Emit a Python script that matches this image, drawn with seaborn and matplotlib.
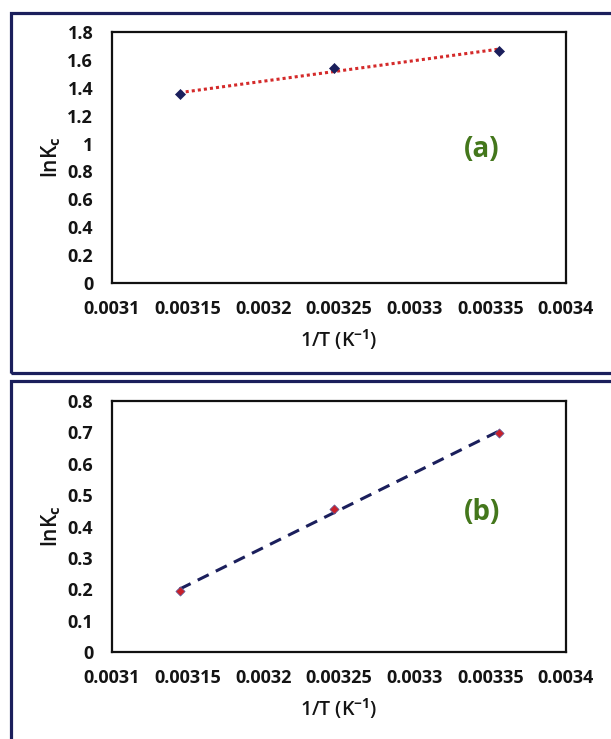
import numpy as np
import pandas as pd
import matplotlib
matplotlib.use("Agg")
import matplotlib.pyplot as plt
from matplotlib.patches import Rectangle
import seaborn as sns

# ---- data ----
inv_T = [0.0031447, 0.0032468, 0.0033557]          # 1/T (K^-1)
lnKc_a = [1.353, 1.540, 1.666]                      # panel (a)
lnKc_b = [0.195, 0.455, 0.699]                      # panel (b)
x_ticks = [0.0031, 0.00315, 0.0032, 0.00325, 0.0033, 0.00335, 0.0034]
x_tick_labels = ["0.0031", "0.00315", "0.0032", "0.00325", "0.0033", "0.00335", "0.0034"]
y_ticks_a = [0, 0.2, 0.4, 0.6, 0.8, 1.0, 1.2, 1.4, 1.6, 1.8]
y_tick_labels_a = ["0", "0.2", "0.4", "0.6", "0.8", "1", "1.2", "1.4", "1.6", "1.8"]
y_ticks_b = [0, 0.1, 0.2, 0.3, 0.4, 0.5, 0.6, 0.7, 0.8]
y_tick_labels_b = ["0", "0.1", "0.2", "0.3", "0.4", "0.5", "0.6", "0.7", "0.8"]
panel_labels = ["(a)", "(b)"]

sns.set_theme(style="white")
FONT = "Open Sans"
plt.rcParams["font.family"] = [FONT, "DejaVu Sans"]
plt.rcParams["mathtext.fontset"] = "custom"
plt.rcParams["mathtext.rm"] = FONT + ":bold"
plt.rcParams["mathtext.it"] = FONT + ":bold"
plt.rcParams["mathtext.bf"] = FONT + ":bold"

NAVY = "#1b1f5c"
RED = "#d42a2a"
GREEN = "#44771c"
TXT = "#141414"

fig = plt.figure(figsize=(6.11, 7.39), dpi=100)

W = 454 / 611
H = 251 / 739
L = 112 / 611
ax_a = fig.add_axes([L, 1 - 283 / 739, W, H])
ax_b = fig.add_axes([L, 1 - 652 / 739, W, H])

df_a = pd.DataFrame({"x": inv_T, "y": lnKc_a})
df_b = pd.DataFrame({"x": inv_T, "y": lnKc_b})

# panel (a): red dotted trendline, navy markers
sns.regplot(data=df_a, x="x", y="y", ax=ax_a, ci=None, scatter=False,
            line_kws=dict(color=RED, lw=2.2, ls=(0, (1, 1))))
sns.scatterplot(data=df_a, x="x", y="y", ax=ax_a, marker="D", s=26,
                color=NAVY, edgecolor=NAVY, linewidth=0.5, zorder=5)

# panel (b): navy dashed trendline, red markers
sns.regplot(data=df_b, x="x", y="y", ax=ax_b, ci=None, scatter=False,
            line_kws=dict(color=NAVY, lw=2.2, ls=(0, (4, 2.6))))
sns.scatterplot(data=df_b, x="x", y="y", ax=ax_b, marker="D", s=22,
                color="#c8202a", edgecolor="#5a5fa0", linewidth=0.5, zorder=5)

for ax, yt, ytl, lab, ly in [(ax_a, y_ticks_a, y_tick_labels_a, panel_labels[0], 0.53),
                              (ax_b, y_ticks_b, y_tick_labels_b, panel_labels[1], 0.555)]:
    ax.set_xlim(x_ticks[0], x_ticks[-1])
    ax.set_ylim(yt[0], yt[-1])
    ax.set_xticks(x_ticks)
    ax.set_xticklabels(x_tick_labels)
    ax.set_yticks(yt)
    ax.set_yticklabels(ytl)
    ax.tick_params(axis="both", length=0, labelsize=13, labelcolor=TXT)
    ax.tick_params(axis="y", pad=13.5)
    ax.tick_params(axis="x", pad=12)
    for t in ax.get_xticklabels() + ax.get_yticklabels():
        t.set_fontweight("bold")
    for s in ax.spines.values():
        s.set_visible(True)
        s.set_color("#111111")
        s.set_linewidth(1.6)
    ax.set_xlabel(r"1/T (K$^{-1}$)", fontsize=14, fontweight="semibold",
                  color=TXT, labelpad=7)
    ax.set_ylabel(r"lnK$_{\mathrm{c}}$", fontsize=15, fontweight="semibold",
                  color=TXT, labelpad=3)
    ax.grid(False)
    ax.text(0.815, ly, lab, transform=ax.transAxes, color=GREEN, fontsize=20,
            fontweight="bold", ha="center", va="center")

# outer panel frames
fig.patches.append(Rectangle((11 / 611, 1 - 373 / 739), 1.2, (373 - 13) / 739,
                             transform=fig.transFigure, fill=False,
                             edgecolor=NAVY, lw=2.3, zorder=0))
fig.patches.append(Rectangle((11 / 611, -0.1), 1.2, (0.1 + 1 - 381 / 739),
                             transform=fig.transFigure, fill=False,
                             edgecolor=NAVY, lw=2.3, zorder=0))

fig.savefig("out.png", dpi=100, facecolor="white")
